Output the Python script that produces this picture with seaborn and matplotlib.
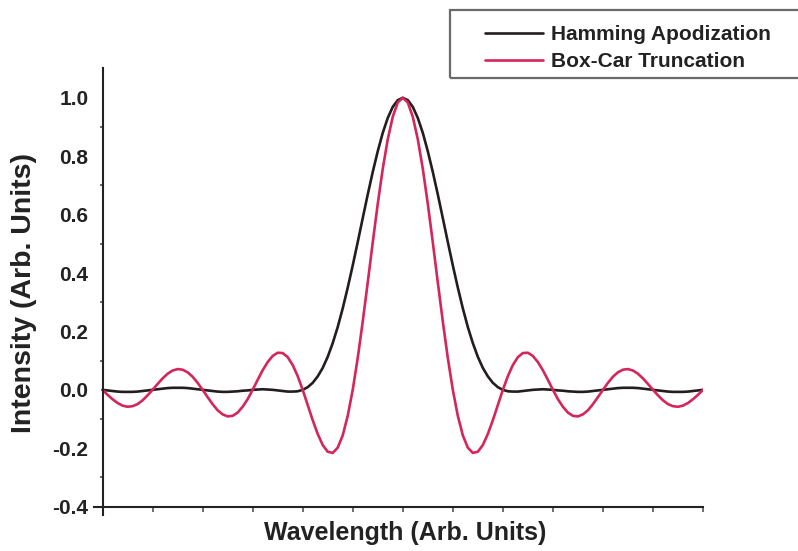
import numpy as np
import pandas as pd
import matplotlib
matplotlib.use("Agg")
import matplotlib.pyplot as plt
import seaborn as sns
from matplotlib.patches import Rectangle

# ---- data ----
x_pos = [-6.0, -5.9, -5.8, -5.7, -5.6, -5.5, -5.4, -5.3, -5.2, -5.1,
         -5.0, -4.9, -4.8, -4.7, -4.6, -4.5, -4.4, -4.3, -4.2, -4.1,
         -4.0, -3.9, -3.8, -3.7, -3.6, -3.5, -3.4, -3.3, -3.2, -3.1,
         -3.0, -2.9, -2.8, -2.7, -2.6, -2.5, -2.4, -2.3, -2.2, -2.1,
         -2.0, -1.9, -1.8, -1.7, -1.6, -1.5, -1.4, -1.3, -1.2, -1.1,
         -1.0, -0.9, -0.8, -0.7, -0.6, -0.5, -0.4, -0.3, -0.2, -0.1,
         0.0,
         0.1, 0.2, 0.3, 0.4, 0.5, 0.6, 0.7, 0.8, 0.9, 1.0,
         1.1, 1.2, 1.3, 1.4, 1.5, 1.6, 1.7, 1.8, 1.9, 2.0,
         2.1, 2.2, 2.3, 2.4, 2.5, 2.6, 2.7, 2.8, 2.9, 3.0,
         3.1, 3.2, 3.3, 3.4, 3.5, 3.6, 3.7, 3.8, 3.9, 4.0,
         4.1, 4.2, 4.3, 4.4, 4.5, 4.6, 4.7, 4.8, 4.9, 5.0,
         5.1, 5.2, 5.3, 5.4, 5.5, 5.6, 5.7, 5.8, 5.9, 6.0]

hamming = [0.000, -0.002, -0.004, -0.006, -0.007, -0.007, -0.007, -0.006, -0.004, -0.002,
           0.000, 0.002, 0.004, 0.006, 0.007, 0.007, 0.007, 0.006, 0.004, 0.002,
           0.000, -0.002, -0.004, -0.006, -0.007, -0.007, -0.006, -0.005, -0.003, -0.002,
           0.000, 0.001, 0.002, 0.001, 0.000, -0.002, -0.004, -0.006, -0.006, -0.005,
           0.000, 0.009, 0.024, 0.046, 0.075, 0.113, 0.160, 0.215, 0.279, 0.350,
           0.426, 0.506, 0.588, 0.669, 0.746, 0.817, 0.880, 0.931, 0.969, 0.992,
           1.000,
           0.992, 0.969, 0.931, 0.880, 0.817, 0.746, 0.669, 0.588, 0.506, 0.426,
           0.350, 0.279, 0.215, 0.160, 0.113, 0.075, 0.046, 0.024, 0.009, 0.000,
           -0.005, -0.006, -0.006, -0.004, -0.002, 0.000, 0.001, 0.002, 0.001, 0.000,
           -0.002, -0.003, -0.005, -0.006, -0.007, -0.007, -0.006, -0.004, -0.002, 0.000,
           0.002, 0.004, 0.006, 0.007, 0.007, 0.007, 0.006, 0.004, 0.002, 0.000,
           -0.002, -0.004, -0.006, -0.007, -0.007, -0.007, -0.006, -0.004, -0.002, 0.000]

boxcar = [0.000, -0.017, -0.032, -0.045, -0.054, -0.058, -0.056, -0.049, -0.036, -0.019,
          0.000, 0.020, 0.039, 0.055, 0.066, 0.071, 0.069, 0.060, 0.045, 0.024,
          0.000, -0.025, -0.049, -0.070, -0.084, -0.091, -0.089, -0.078, -0.058, -0.032,
          0.000, 0.034, 0.067, 0.095, 0.116, 0.127, 0.126, 0.112, 0.085, 0.047,
          0.000, -0.052, -0.104, -0.151, -0.189, -0.212, -0.216, -0.198, -0.156, -0.089,
          0.000, 0.109, 0.234, 0.368, 0.505, 0.637, 0.757, 0.858, 0.935, 0.984,
          1.000,
          0.984, 0.935, 0.858, 0.757, 0.637, 0.505, 0.368, 0.234, 0.109, 0.000,
          -0.089, -0.156, -0.198, -0.216, -0.212, -0.189, -0.151, -0.104, -0.052, 0.000,
          0.047, 0.085, 0.112, 0.126, 0.127, 0.116, 0.095, 0.067, 0.034, 0.000,
          -0.032, -0.058, -0.078, -0.089, -0.091, -0.084, -0.070, -0.049, -0.025, 0.000,
          0.024, 0.045, 0.060, 0.069, 0.071, 0.066, 0.055, 0.039, 0.020, 0.000,
          -0.019, -0.036, -0.049, -0.056, -0.058, -0.054, -0.045, -0.032, -0.017, 0.000]

series_names = ["Hamming Apodization", "Box-Car Truncation"]
y_ticks = [-0.4, -0.2, 0.0, 0.2, 0.4, 0.6, 0.8, 1.0]
y_tick_labels = ["-0.4", "-0.2", "0.0", "0.2", "0.4", "0.6", "0.8", "1.0"]
y_minor = [-0.3, -0.1, 0.1, 0.3, 0.5, 0.7, 0.9]
x_ticks = [-6, -5, -4, -3, -2, -1, 0, 1, 2, 3, 4, 5, 6]

df = pd.concat([
    pd.DataFrame({"x": x_pos, "y": hamming, "series": series_names[0]}),
    pd.DataFrame({"x": x_pos, "y": boxcar, "series": series_names[1]}),
], ignore_index=True)

# ---- style ----
sns.set_theme(style="white")
plt.rcParams["font.family"] = ["Liberation Sans", "DejaVu Sans"]
plt.rcParams["font.weight"] = "bold"
ink = "#222222"

fig = plt.figure(figsize=(7.98, 5.51), dpi=100)
ax = fig.add_axes([0.1178, 0.0646, 0.7632, 0.8125])

palette = {series_names[0]: "#231d1e", series_names[1]: "#d4265a"}
sns.lineplot(data=df, x="x", y="y", hue="series", hue_order=series_names,
             palette=palette, linewidth=1.9, sort=False, estimator=None,
             ax=ax)

ax.set_xlim(-6.17, 6.0)
ax.set_ylim(-0.43, 1.103)
for s in ["top", "right"]:
    ax.spines[s].set_visible(False)
ax.spines["left"].set_position(("data", -6))
ax.spines["bottom"].set_position(("data", -0.4))
for s in ["left", "bottom"]:
    ax.spines[s].set_color(ink)
    ax.spines[s].set_linewidth(1.5)

ax.set_yticks(y_ticks)
ax.set_yticklabels(y_tick_labels)
ax.set_yticks(y_minor, minor=True)
ax.set_xticks(x_ticks)
ax.set_xticklabels([])
ax.tick_params(axis="y", which="major", direction="out", length=4, width=1.2,
               color="#555555", pad=6, labelsize=15, labelcolor=ink)
ax.tick_params(axis="y", which="minor", direction="out", length=2.5, width=1.2,
               color="#555555", left=True)
ax.tick_params(axis="x", which="major", direction="out", length=3.5, width=1.2,
               color="#555555", bottom=True)

ax.set_xlabel("Wavelength (Arb. Units)", fontsize=18, fontweight="bold", color=ink)
ax.set_ylabel("Intensity (Arb. Units)", fontsize=20.5, fontweight="bold", color=ink)
ax.xaxis.set_label_coords(0.5107, -0.0125)
ax.yaxis.set_label_coords(-0.094, 0.4957)

# legend
old = ax.get_legend()
handles = old.legend_handles
labels = [t.get_text() for t in old.get_texts()]
old.remove()
leg = ax.legend(handles, labels, loc="upper left",
                bbox_to_anchor=(485 / 798, 1 - 25 / 551), bbox_transform=fig.transFigure,
                frameon=False, fontsize=15, handlelength=2.8, handletextpad=0.35,
                labelspacing=0.38, borderpad=0, borderaxespad=0)
for t in leg.get_texts():
    t.set_color(ink)
    t.set_fontweight("bold")
for h in leg.legend_handles:
    h.set_linewidth(1.9)

fig.add_artist(Rectangle((450 / 798, 1 - 78 / 551), 360 / 798, 68 / 551,
                         transform=fig.transFigure, fill=False,
                         edgecolor="#6a6a6a", linewidth=1.6))

fig.savefig("out.png", dpi=100)
